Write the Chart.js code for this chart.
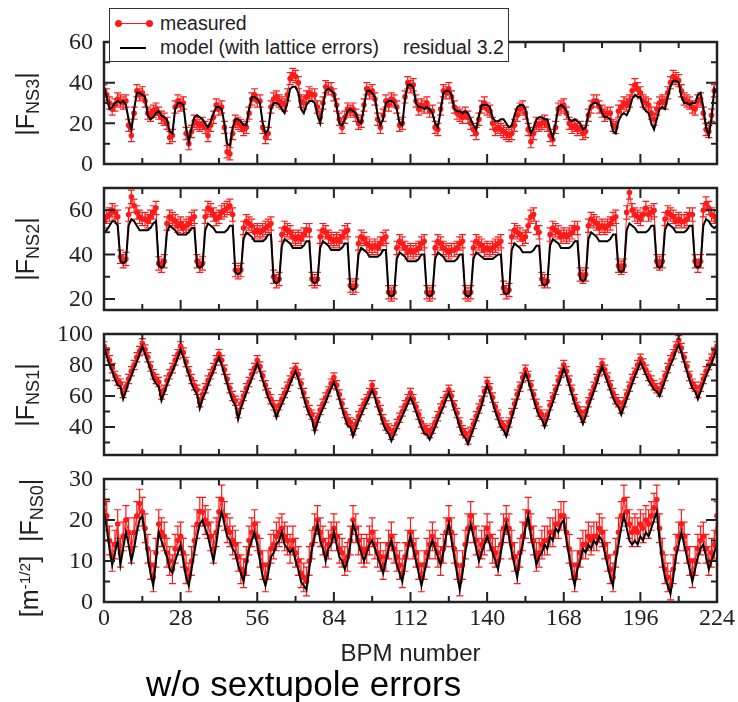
<!DOCTYPE html>
<html>
<head>
<meta charset="utf-8">
<script src="https://cdn.jsdelivr.net/npm/chart.js@4.4.1/dist/chart.umd.min.js"></script>
<style>
  body { margin: 0; background: #fff; }
  #wrap { position: relative; width: 738px; height: 702px; background: #fff; overflow: hidden; font-family: "Liberation Sans", Arial, sans-serif; color: #222; }
  .panel { position: absolute; left: 0; width: 738px; }
  .ylab { position: absolute; width: 170px; height: 30px; line-height: 30px; text-align: center; font-size: 25px; transform: rotate(-90deg); white-space: nowrap; }
  .ylab sub { font-size: 72%; vertical-align: -0.3em; }
  .ylab sup { font-size: 62%; vertical-align: 0.5em; }
  #legend { position: absolute; left: 109px; top: 8px; width: 398px; height: 52px; border: 1.5px solid #333; background: #fff; z-index: 5; font-size: 19.5px; }
  #legend .txt { position: absolute; line-height: 22px; white-space: nowrap; }
  #legend .ln { position: absolute; height: 0; }
  #legend .dot { position: absolute; width: 7px; height: 7px; border-radius: 50%; background: #ff1a1a; }
  #caption { position: absolute; left: 146px; top: 664px; font-size: 35px; line-height: 40px; color: #000; white-space: nowrap; }
</style>
</head>
<body>
<div id="wrap">
  <div class="panel" style="top:26px;height:154px"><canvas id="c1"></canvas></div>
  <div class="panel" style="top:172px;height:154px"><canvas id="c2"></canvas></div>
  <div class="panel" style="top:318px;height:153px"><canvas id="c3"></canvas></div>
  <div class="panel" style="top:463px;height:210px"><canvas id="c4"></canvas></div>

  <div class="ylab" style="left:-60px;top:89px">|F<sub>NS3</sub>|</div>
  <div class="ylab" style="left:-60px;top:234px">|F<sub>NS2</sub>|</div>
  <div class="ylab" style="left:-60px;top:380px">|F<sub>NS1</sub>|</div>
  <div class="ylab" style="left:-60px;top:533px">[m<sup>-1/2</sup>] &nbsp;|F<sub>NS0</sub>|</div>

  <div id="legend">
    <div class="ln" style="left:8px;top:14px;width:31px;border-top:1.5px solid #ff1a1a"></div>
    <div class="dot" style="left:5px;top:11px"></div>
    <div class="dot" style="left:36px;top:11px"></div>
    <div class="txt" style="left:50px;top:3px">measured</div>
    <div class="ln" style="left:10px;top:38px;width:26px;border-top:2px solid #000"></div>
    <div class="txt" style="left:50px;top:27px">model (with lattice errors)</div>
    <div class="txt" style="left:293px;top:27px">residual 3.2</div>
  </div>

  <div id="caption">w/o sextupole errors</div>
</div>

<script>
// BPM NUMBERS 0..224 (X CATEGORIES)
const bpm = Array.from({length: 225}, (_, i) => i);

// |F_NS3| : MODEL AND MEASURED
const ns3Model = [
  38, 33, 27, 28, 30, 31, 30, 31, 29, 22, 17, 27, 35, 35, 34,
  33, 24, 22, 23, 25, 26, 24, 23, 22, 16, 15, 27, 30, 30, 29,
  18, 11, 18, 23, 24, 23, 22, 20, 18, 21, 25, 28, 28, 27, 20,
  10, 9, 18, 22, 22, 21, 19, 19, 27, 33, 33, 32, 30, 20, 15,
  17, 27, 30, 30, 29, 27, 25, 30, 37, 38, 38, 35, 27, 25, 29,
  31, 31, 30, 24, 20, 28, 36, 37, 36, 35, 28, 20, 19, 22, 26,
  27, 26, 25, 21, 20, 28, 36, 36, 35, 33, 24, 19, 22, 30, 31,
  31, 30, 27, 20, 19, 32, 39, 39, 38, 30, 28, 28, 27, 28, 27,
  25, 20, 18, 26, 35, 36, 36, 34, 27, 26, 26, 25, 26, 25, 22,
  19, 17, 24, 29, 29, 29, 28, 23, 21, 21, 22, 22, 20, 18, 19,
  24, 28, 29, 29, 27, 20, 15, 18, 22, 23, 23, 22, 22, 17, 13,
  20, 28, 29, 28, 26, 22, 21, 22, 21, 20, 17, 18, 25, 29, 30,
  30, 29, 25, 23, 23, 22, 16, 15, 21, 24, 25, 24, 27, 32, 34,
  33, 33, 28, 26, 25, 20, 17, 22, 27, 28, 27, 33, 38, 41, 41,
  40, 33, 30, 30, 29, 30, 30, 34, 35, 28, 18, 14, 22, 37, 35
];
const ns3Meas = [
  36, 34, 30, 27, 29, 32, 31, 30, 31, 19, 14, 25, 36, 34, 35,
  31, 25, 24, 26, 27, 25, 23, 22, 20, 13, 14, 28, 31, 29, 30,
  15, 10, 16, 21, 20, 19, 20, 18, 14, 19, 23, 29, 27, 28, 18,
  6, 5, 15, 21, 20, 19, 17, 18, 25, 32, 34, 31, 31, 18, 13,
  15, 28, 32, 33, 31, 30, 29, 34, 42, 44, 43, 40, 31, 30, 33,
  35, 34, 34, 28, 23, 30, 38, 37, 37, 34, 29, 22, 18, 23, 27,
  26, 27, 24, 20, 21, 29, 37, 35, 36, 32, 22, 18, 24, 31, 29,
  32, 31, 28, 19, 20, 33, 40, 38, 39, 31, 27, 29, 28, 30, 26,
  26, 18, 17, 27, 36, 35, 37, 33, 28, 25, 24, 23, 25, 23, 20,
  17, 15, 22, 28, 30, 27, 26, 20, 17, 18, 17, 16, 15, 14, 15,
  19, 24, 27, 28, 25, 17, 11, 15, 20, 19, 20, 21, 19, 14, 12,
  18, 27, 28, 29, 25, 20, 18, 19, 17, 18, 15, 16, 24, 28, 31,
  31, 28, 26, 24, 25, 25, 19, 18, 26, 28, 30, 29, 31, 36, 39,
  37, 35, 31, 30, 29, 25, 22, 27, 30, 31, 30, 35, 40, 43, 42,
  41, 36, 32, 31, 30, 28, 27, 31, 32, 25, 17, 16, 24, 36, 36
];

// |F_NS2| : MODEL AND MEASURED
const ns2Model = [
  50, 51, 53, 55, 55, 53, 37, 36, 37, 53, 56, 55, 53, 51, 51,
  51, 51, 52, 54, 55, 35, 34, 35, 50, 53, 52, 51, 49, 49, 49,
  49, 50, 52, 52, 35, 34, 35, 51, 54, 53, 52, 50, 50, 50, 50,
  51, 53, 53, 32, 31, 32, 47, 50, 49, 48, 46, 46, 46, 46, 47,
  49, 49, 28, 27, 28, 44, 47, 46, 45, 43, 43, 43, 43, 44, 46,
  46, 28, 27, 28, 43, 46, 45, 44, 42, 42, 42, 42, 43, 45, 45,
  25, 24, 25, 40, 43, 42, 41, 39, 39, 39, 39, 40, 42, 42, 22,
  21, 22, 38, 41, 40, 39, 37, 37, 37, 37, 38, 40, 40, 22, 21,
  22, 38, 41, 40, 39, 37, 37, 37, 37, 38, 40, 40, 22, 21, 22,
  38, 41, 40, 39, 38, 38, 38, 38, 39, 40, 40, 23, 22, 23, 42,
  45, 44, 43, 41, 41, 41, 41, 42, 44, 44, 27, 26, 27, 44, 47,
  46, 45, 43, 43, 43, 43, 44, 46, 46, 29, 28, 29, 47, 50, 49,
  48, 46, 46, 46, 46, 47, 49, 49, 33, 32, 33, 51, 54, 53, 52,
  50, 50, 50, 50, 51, 53, 53, 35, 34, 35, 51, 54, 53, 52, 50,
  50, 50, 50, 51, 53, 53, 35, 34, 35, 53, 56, 55, 53, 52, 53
];
const ns2Meas = [
  55, 57, 58, 60, 59, 57, 39, 37, 38, 58, 66, 62, 59, 57, 56,
  56, 55, 57, 59, 61, 36, 35, 37, 54, 57, 56, 55, 53, 54, 52,
  53, 54, 56, 57, 37, 35, 36, 57, 61, 60, 58, 56, 57, 59, 60,
  61, 62, 58, 33, 32, 33, 52, 55, 54, 53, 50, 51, 50, 51, 52,
  53, 54, 30, 28, 29, 49, 52, 51, 50, 48, 47, 48, 47, 49, 51,
  51, 29, 28, 29, 48, 51, 50, 48, 47, 46, 47, 46, 48, 50, 51,
  26, 25, 26, 45, 48, 47, 45, 44, 43, 44, 43, 45, 47, 48, 23,
  22, 23, 43, 46, 45, 43, 41, 42, 41, 42, 43, 45, 46, 23, 22,
  23, 43, 46, 45, 43, 42, 41, 42, 42, 43, 45, 46, 23, 22, 23,
  43, 46, 45, 44, 42, 43, 42, 43, 44, 45, 46, 25, 23, 24, 48,
  51, 50, 49, 47, 48, 53, 57, 58, 52, 50, 29, 28, 28, 49, 52,
  51, 50, 48, 49, 48, 49, 50, 52, 52, 31, 30, 31, 53, 56, 55,
  54, 52, 53, 52, 53, 54, 56, 57, 35, 34, 35, 59, 68, 60, 58,
  57, 56, 58, 61, 58, 59, 60, 37, 36, 37, 56, 59, 58, 57, 55,
  56, 55, 55, 56, 58, 58, 37, 35, 37, 60, 63, 61, 58, 57, 55
];

// |F_NS1| : MODEL AND MEASURED
const ns1Model = [
  91, 86, 80, 76, 71, 67, 66, 58, 63, 69, 73, 78, 82, 87, 92,
  87, 82, 77, 71, 68, 66, 57, 62, 67, 72, 76, 80, 85, 90, 85,
  79, 74, 68, 64, 61, 52, 58, 62, 67, 72, 76, 81, 85, 80, 74,
  68, 62, 57, 54, 45, 52, 57, 62, 67, 71, 76, 81, 76, 70, 65,
  59, 55, 52, 46, 51, 55, 59, 63, 68, 72, 76, 71, 65, 59, 53,
  48, 45, 37, 43, 48, 52, 56, 61, 65, 69, 64, 58, 52, 46, 41,
  40, 34, 39, 44, 48, 52, 56, 60, 64, 59, 53, 48, 42, 38, 36,
  31, 35, 39, 43, 47, 51, 55, 59, 55, 50, 45, 40, 36, 35, 32,
  36, 40, 45, 49, 53, 58, 62, 57, 51, 46, 40, 35, 33, 29, 34,
  39, 44, 49, 54, 61, 67, 62, 56, 50, 45, 40, 38, 34, 40, 46,
  52, 58, 64, 69, 75, 70, 64, 58, 52, 47, 45, 40, 45, 51, 56,
  62, 67, 72, 78, 73, 67, 61, 55, 50, 47, 42, 47, 53, 58, 63,
  68, 74, 79, 74, 69, 64, 59, 55, 53, 48, 53, 58, 63, 68, 73,
  77, 82, 78, 74, 70, 67, 64, 63, 60, 65, 70, 75, 80, 84, 89,
  93, 88, 82, 76, 70, 65, 63, 58, 63, 68, 73, 77, 81, 86, 90
];
const ns1Meas = [
  92, 88, 83, 78, 73, 70, 68, 62, 66, 71, 76, 80, 85, 89, 94,
  90, 85, 79, 74, 71, 69, 61, 64, 70, 74, 78, 83, 87, 92, 88,
  82, 76, 71, 67, 64, 56, 61, 65, 70, 74, 78, 83, 87, 83, 77,
  71, 65, 60, 57, 49, 55, 60, 65, 69, 74, 78, 83, 79, 73, 67,
  62, 58, 54, 50, 54, 58, 62, 66, 70, 75, 78, 74, 68, 62, 56,
  51, 48, 41, 46, 51, 55, 59, 63, 68, 72, 67, 61, 55, 49, 45,
  43, 38, 42, 47, 51, 55, 58, 62, 67, 62, 56, 51, 45, 41, 39,
  35, 38, 42, 46, 50, 54, 58, 62, 58, 53, 48, 43, 39, 38, 36,
  39, 43, 47, 52, 56, 60, 64, 60, 54, 49, 43, 38, 36, 32, 37,
  42, 47, 52, 57, 63, 69, 65, 59, 53, 48, 43, 41, 38, 43, 49,
  55, 61, 66, 72, 77, 73, 67, 61, 55, 50, 48, 44, 48, 54, 59,
  64, 70, 75, 80, 76, 70, 64, 58, 53, 50, 46, 50, 56, 61, 66,
  71, 76, 81, 77, 72, 67, 62, 58, 56, 52, 56, 61, 66, 71, 75,
  80, 84, 81, 77, 73, 70, 67, 65, 63, 68, 73, 78, 83, 87, 92,
  96, 91, 85, 79, 73, 68, 66, 62, 66, 71, 76, 80, 84, 88, 92
];

// |F_NS0| : MODEL AND MEASURED
const ns0Model = [
  22, 18, 13, 9, 12, 15, 9, 13, 17, 14, 10, 13, 17, 20, 21,
  16, 11, 7, 4, 10, 17, 15, 13, 11, 8, 7, 10, 12, 14, 10,
  6, 4, 8, 12, 16, 19, 20, 18, 16, 13, 10, 14, 19, 22, 19,
  16, 15, 13, 12, 9, 7, 5, 9, 13, 15, 17, 14, 10, 6, 4,
  7, 11, 12, 14, 15, 17, 14, 13, 12, 13, 10, 8, 5, 4, 3,
  8, 13, 16, 19, 15, 13, 10, 13, 14, 17, 14, 11, 10, 8, 10,
  14, 19, 17, 14, 12, 10, 12, 14, 15, 13, 11, 9, 7, 10, 13,
  15, 12, 9, 7, 5, 9, 13, 16, 13, 10, 7, 4, 7, 10, 13,
  15, 13, 11, 9, 12, 16, 19, 15, 11, 7, 3, 7, 12, 16, 19,
  16, 13, 10, 12, 14, 16, 14, 12, 10, 8, 12, 16, 19, 16, 12,
  9, 6, 11, 14, 18, 21, 16, 13, 9, 11, 12, 14, 13, 16, 15,
  18, 17, 19, 20, 15, 11, 7, 4, 8, 10, 13, 12, 14, 13, 15,
  14, 16, 15, 12, 9, 6, 4, 10, 14, 18, 21, 18, 15, 14, 15,
  14, 16, 15, 17, 16, 18, 20, 22, 15, 10, 6, 4, 2, 6, 11,
  14, 17, 14, 11, 8, 5, 8, 11, 13, 14, 11, 8, 10, 12, 14
];
const ns0Meas = [
  24, 21, 15, 11, 14, 19, 12, 16, 20, 17, 13, 17, 21, 24, 22,
  18, 13, 9, 6, 12, 19, 17, 16, 12, 10, 8, 13, 15, 16, 12,
  8, 6, 10, 15, 19, 22, 22, 20, 19, 16, 13, 17, 22, 25, 21,
  18, 17, 15, 14, 11, 8, 7, 10, 15, 17, 19, 16, 12, 9, 6,
  9, 13, 14, 16, 17, 18, 16, 15, 13, 15, 12, 10, 7, 6, 5,
  10, 14, 18, 20, 17, 15, 12, 14, 16, 18, 16, 13, 12, 10, 11,
  15, 20, 18, 15, 13, 12, 13, 15, 17, 14, 12, 11, 9, 11, 14,
  16, 13, 11, 9, 7, 11, 14, 17, 14, 12, 9, 6, 9, 12, 14,
  16, 14, 12, 10, 13, 17, 20, 17, 13, 9, 5, 9, 14, 18, 21,
  18, 15, 12, 14, 15, 18, 16, 13, 12, 10, 14, 18, 20, 18, 14,
  11, 8, 12, 16, 19, 22, 18, 15, 11, 12, 14, 15, 15, 17, 17,
  19, 19, 21, 21, 17, 13, 9, 6, 9, 12, 14, 14, 16, 15, 16,
  16, 18, 17, 14, 11, 8, 6, 12, 17, 21, 25, 22, 19, 17, 18,
  17, 19, 18, 20, 19, 21, 23, 25, 18, 12, 8, 6, 4, 8, 13,
  16, 19, 16, 13, 10, 7, 10, 13, 15, 16, 13, 10, 12, 14, 21
];

// ERROR BAR HALF-WIDTHS OF THE MEASUREMENTS
const ns3Err = 3, ns2Err = 3, ns1Err = 3, ns0Err = 3.5;

const RED = '#ff1a1a';
const INK = '#222';
const TICK_FONT_STR = '24px "Liberation Serif", "Times New Roman", serif';
const SANS = "'Liberation Sans', Arial, sans-serif";

// ERROR BARS, DRAWN UNDER THE POINTS
const errorBars = {
  id: 'errorBars',
  beforeDatasetsDraw(chart) {
    const {ctx, chartArea: a, scales: {x, y}} = chart;
    ctx.save();
    ctx.beginPath();
    ctx.rect(a.left, a.top, a.width, a.height);
    ctx.clip();
    ctx.strokeStyle = RED;
    ctx.lineWidth = 1.2;
    chart.data.datasets.forEach(ds => {
      if (!ds.errorBar) return;
      ctx.beginPath();
      ds.data.forEach(p => {
        const px = x.getPixelForValue(p.x);
        const y1 = y.getPixelForValue(p.y - ds.errorBar);
        const y2 = y.getPixelForValue(p.y + ds.errorBar);
        ctx.moveTo(px, y1); ctx.lineTo(px, y2);
        ctx.moveTo(px - 3.5, y1); ctx.lineTo(px + 3.5, y1);
        ctx.moveTo(px - 3.5, y2); ctx.lineTo(px + 3.5, y2);
      });
      ctx.stroke();
    });
    ctx.restore();
  }
};

// FRAME, INWARD TICKS ON ALL FOUR SIDES AND SERIF TICK LABELS FROM THE SCALES' TICKS
const frameTicks = {
  id: 'frameTicks',
  afterDatasetsDraw(chart, args, opts) {
    const {ctx, chartArea: a, scales: {x, y}} = chart;
    ctx.save();
    ctx.strokeStyle = INK;
    ctx.lineWidth = 2;
    ctx.beginPath();
    x.ticks.forEach(t => {
      const px = x.getPixelForValue(t.value);
      if (px <= a.left + 1 || px >= a.right - 1) return;
      const len = t.value % opts.xMajor === 0 ? 10 : 6;
      ctx.moveTo(px, a.bottom); ctx.lineTo(px, a.bottom - len);
      ctx.moveTo(px, a.top); ctx.lineTo(px, a.top + len);
    });
    y.ticks.forEach(t => {
      const py = y.getPixelForValue(t.value);
      if (py <= a.top + 1 || py >= a.bottom - 1) return;
      const len = t.value % opts.yMajor === 0 ? 11 : 6;
      ctx.moveTo(a.left, py); ctx.lineTo(a.left + len, py);
      ctx.moveTo(a.right, py); ctx.lineTo(a.right - len, py);
    });
    ctx.stroke();
    ctx.lineWidth = 2.5;
    ctx.strokeRect(a.left, a.top, a.width, a.height);

    ctx.font = TICK_FONT_STR;
    ctx.fillStyle = INK;
    ctx.textAlign = 'right';
    ctx.textBaseline = 'middle';
    y.ticks.forEach(t => {
      if (t.label === '') return;
      ctx.fillText(t.label, a.left - 11, y.getPixelForValue(t.value) + 1);
    });
    if (opts.xLabels) {
      ctx.textAlign = 'center';
      ctx.textBaseline = 'top';
      x.ticks.forEach(t => {
        if (t.label === '') return;
        ctx.fillText(t.label, x.getPixelForValue(t.value), a.bottom + 5);
      });
    }
    ctx.restore();
  }
};

function makePanel(id, model, measured, err, yMin, yMax, yStep, labelStep, labelMin, isBottom) {
  const ctx = document.getElementById(id).getContext('2d');
  return new Chart(ctx, {
    type: 'line',
    data: {
      datasets: [{
        label: 'model (with lattice errors)',
        data: model.map((v, i) => ({x: bpm[i], y: v})),
        borderColor: '#000',
        borderWidth: 2,
        pointRadius: 0,
        tension: 0,
        order: 1
      }, {
        label: 'measured',
        data: measured.map((v, i) => ({x: bpm[i], y: v})),
        borderColor: RED,
        backgroundColor: RED,
        borderWidth: 1,
        pointRadius: 2.8,
        pointBorderWidth: 0,
        tension: 0,
        order: 2,
        errorBar: err
      }]
    },
    options: {
      responsive: true,
      maintainAspectRatio: false,
      animation: false,
      events: [],
      layout: { padding: { top: 16, right: 21, left: 0, bottom: isBottom ? 0 : 16 } },
      plugins: {
        legend: { display: false },
        tooltip: { enabled: false },
        frameTicks: { xMajor: 28, yMajor: labelStep, xLabels: isBottom }
      },
      scales: {
        x: {
          type: 'linear',
          min: 0,
          max: 224,
          grid: { display: false, drawTicks: false },
          border: { display: false },
          ticks: {
            display: false,
            stepSize: 14,
            autoSkip: false,
            callback: v => (v % 28 === 0 ? String(v) : '')
          },
          title: {
            display: isBottom,
            text: 'BPM number',
            font: { family: SANS, size: 24 },
            color: INK,
            padding: { top: 0, bottom: 4 }
          },
          afterFit: s => { s.height = isBottom ? 71 : 0; }
        },
        y: {
          min: yMin,
          max: yMax,
          grid: { display: false, drawTicks: false },
          border: { display: false },
          ticks: {
            display: false,
            stepSize: yStep,
            autoSkip: false,
            includeBounds: false,
            callback: v => (v % labelStep === 0 && v >= labelMin ? String(v) : '')
          },
          afterFit: s => { s.width = 104; }
        }
      }
    },
    plugins: [errorBars, frameTicks]
  });
}

makePanel('c1', ns3Model, ns3Meas, ns3Err, 0, 60, 10, 20, 0, false);
makePanel('c2', ns2Model, ns2Meas, ns2Err, 15, 70, 10, 20, 20, false);
makePanel('c3', ns1Model, ns1Meas, ns1Err, 22, 100, 10, 20, 40, false);
makePanel('c4', ns0Model, ns0Meas, ns0Err, 0, 30, 5, 10, 0, true);
</script>
</body>
</html>
